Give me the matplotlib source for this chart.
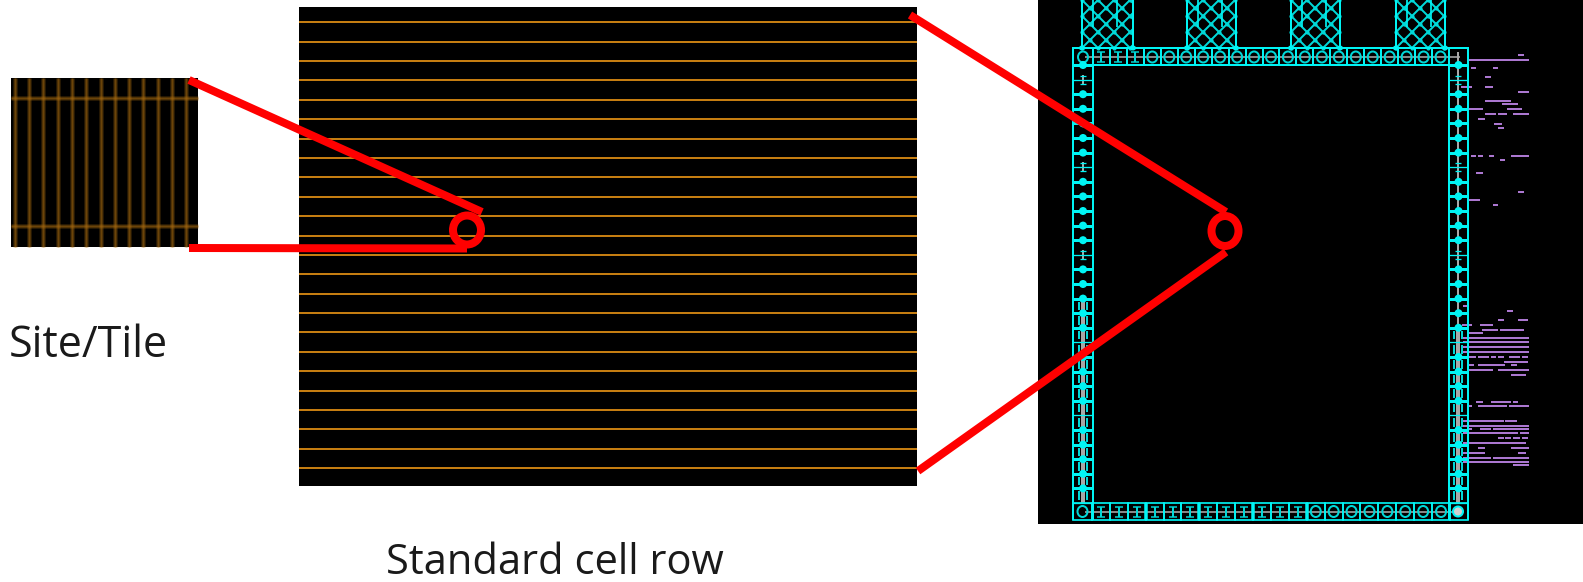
import numpy as np
from matplotlib import pyplot as plt
from matplotlib.collections import LineCollection
from matplotlib.patches import Ellipse, Rectangle

# horizontal rows of the middle panel
row_y = [22, 42, 61, 80, 100, 119, 139, 158, 177, 197, 216, 236, 255, 274,
         294, 313, 332, 352, 371, 391, 410, 429, 449, 468]

# site / tile panel grid
site_x = [15, 29, 43, 58, 72, 86, 101, 115, 129, 143, 158, 172, 186]
site_y = [98, 226]

# io ring cells
top_cells = "OIIIOOOOOOOOOOOOOOOOOOO"
bottom_cells = "OIIIIIIIIIIIIOOOOOOOOO"
left_cells = "----------------OOOOOOOOOOOOOO"
right_cells = "------------------OOOOOOOOOOOO"
side_borders = "DTDDDDDTDDDDDTDDDDDNDDDDNDDDDDN"
bottom_bright = [4, 7, 10, 13]

pad_x0 = [1082, 1187, 1291, 1396]
pad_x1 = [1133, 1236, 1340, 1445]

# purple wires right of the ring
wire_y = [55, 60, 68, 68, 77, 87, 87, 92, 101, 104, 109, 109, 114, 114, 114,
          119, 124, 128, 156, 156, 156, 156, 160, 173, 192, 200, 205, 306,
          311, 320, 320, 325, 325, 330, 330, 333, 338, 342, 347, 352,
          357, 357, 357, 357, 357, 357, 362, 365, 365, 365, 370, 370, 375,
          402, 402, 402, 406, 406, 406, 421, 421, 426, 429, 429, 429, 433, 433,
          438, 438, 438, 438, 443, 448, 448, 453, 453, 458, 458, 462, 465]
wire_x0 = [1518, 1468, 1471, 1493, 1485, 1461, 1485, 1518, 1485, 1502, 1468, 1507, 1485, 1498, 1513,
           1478, 1494, 1498, 1471, 1478, 1489, 1511, 1500, 1476, 1518, 1468, 1493, 1463,
           1507, 1498, 1518, 1462, 1480, 1482, 1500, 1468, 1463, 1463, 1463, 1463,
           1468, 1478, 1491, 1498, 1509, 1522, 1504, 1468, 1478, 1511, 1467, 1498, 1511,
           1476, 1491, 1513, 1468, 1478, 1509, 1463, 1505, 1463, 1468, 1480, 1493, 1463, 1520,
           1498, 1505, 1513, 1522, 1463, 1478, 1511, 1463, 1518, 1463, 1493, 1463, 1513]
wire_x1 = [1524, 1529, 1476, 1498, 1491, 1472, 1493, 1529, 1511, 1518, 1483, 1522, 1496, 1507, 1529,
           1485, 1502, 1504, 1476, 1483, 1494, 1529, 1505, 1483, 1524, 1480, 1498, 1467,
           1513, 1504, 1528, 1472, 1493, 1498, 1524, 1483, 1529, 1529, 1529, 1529,
           1476, 1489, 1496, 1504, 1520, 1528, 1528, 1474, 1505, 1517, 1493, 1529, 1526,
           1483, 1511, 1518, 1472, 1507, 1529, 1504, 1517, 1529, 1472, 1491, 1529, 1518, 1529,
           1504, 1511, 1520, 1528, 1526, 1485, 1529, 1485, 1526, 1491, 1529, 1529, 1529]

CYAN = '#00f4f4'
GLYPH = '#00d8d8'
GRAY = '#a8a8a8'
PX = 0.72  # one pixel in points at dpi 100


def line(ax, xs, ys, color, width, **kw):
    ax.plot(xs, ys, color=color, lw=width * PX, solid_capstyle='butt', **kw)


def draw_glyph(ax, kind, cx, cy):
    if kind == 'O':
        ax.add_patch(Ellipse((cx, cy), 10, 11, fill=False, ec=GLYPH, lw=2 * PX, zorder=3))
    elif kind == 'I':
        line(ax, [cx, cx], [cy - 5, cy + 5], GLYPH, 2, zorder=3)
        line(ax, [cx - 4, cx + 4], [cy - 5, cy - 5], GLYPH, 1.5, zorder=3)
        line(ax, [cx - 4, cx + 4], [cy + 5, cy + 5], GLYPH, 1.5, zorder=3)


def draw_side(ax, x0, x1, cells):
    cy0, step = 65, 14.6
    mid = (x0 + x1) / 2
    for k, kind in enumerate(cells):
        y = cy0 + step * k
        if kind == 'O':
            line(ax, [mid, mid], [y, y + step], GRAY, 4, zorder=2)
            for x in (mid - 4, mid + 4):
                line(ax, [x, x], [y + 3, y + step - 3], GLYPH, 2, zorder=3)
    for k, code in enumerate(side_borders):
        y = cy0 + step * k
        if code == 'D':
            line(ax, [x0, x1], [y, y], CYAN, 3, zorder=3)
            ax.add_patch(Ellipse((mid, y), 8, 8, color=CYAN, lw=0, zorder=3))
        else:
            line(ax, [x0, x1], [y, y], CYAN, 1.3, zorder=3)
        if code == 'T':
            line(ax, [mid, mid], [y - 5, y + 5], GRAY, 2, zorder=2)
            line(ax, [mid - 3, mid + 3], [y - 4, y - 4], CYAN, 1.3, zorder=3)
            line(ax, [mid - 3, mid + 3], [y + 4, y + 4], CYAN, 1.3, zorder=3)
    for x in (x0, x1):
        line(ax, [x, x], [48, 520], CYAN, 2, zorder=3)


fig, ax = plt.subplots(figsize=(15.83, 5.82), dpi=100)
fig.subplots_adjust(0, 0, 1, 1)
ax.set_xlim(0, 1583)
ax.set_ylim(582, 0)
ax.axis('off')

# site panel, soft glowing lines
ax.add_patch(Rectangle((11, 78), 187, 169, color='black', lw=0))
for x in site_x:
    line(ax, [x, x], [78, 247], '#a86a10', 5, alpha=0.22)
    line(ax, [x, x], [78, 247], '#a86a10', 3, alpha=0.3)
    line(ax, [x, x], [78, 247], '#a86a10', 1.3, alpha=0.35)
for y in site_y:
    line(ax, [11, 198], [y, y], '#a86a10', 5, alpha=0.22)
    line(ax, [11, 198], [y, y], '#a86a10', 3, alpha=0.3)
    line(ax, [11, 198], [y, y], '#a86a10', 1.3, alpha=0.35)

# middle panel
ax.add_patch(Rectangle((299, 7), 618, 479, color='black', lw=0))
for y in row_y:
    line(ax, [299, 917], [y, y], '#dc8c14', 1.8)

# right panel
ax.add_patch(Rectangle((1038, 0), 545, 524, color='black', lw=0))

# pads
for x0, x1 in zip(pad_x0, pad_x1):
    clip = Rectangle((x0, 0), x1 - x0, 48, transform=ax.transData)
    offsets = np.arange(-64, 128, 16.0)
    segs = []
    for c in offsets:
        segs.append([(x0 + c, 0), (x0 + c + 64, 64)])
        segs.append([(x0 + c + 64, 0), (x0 + c, 64)])
    lc = LineCollection(segs, colors=GLYPH, linewidths=2 * PX)
    ax.add_collection(lc)
    lc.set_clip_path(clip)
    a, b = np.meshgrid(x0 + offsets, x0 + offsets + 64)
    nx, ny = (a + b) / 2, (b - a) / 2
    keep = (nx >= x0) & (nx <= x1) & (ny >= 0) & (ny <= 48)
    ax.scatter(nx[keep], ny[keep], s=9, color=GLYPH, lw=0)
    for x in (x0, x1):
        line(ax, [x, x], [0, 50], CYAN, 2, zorder=3)
        ax.add_patch(Ellipse((x, 48), 6, 5, color=CYAN, lw=0, zorder=3))
    for dx in (11, 35):
        line(ax, [x0 + dx, x0 + dx], [0, 27], CYAN, 1.7)

# wires, under the ring
ax.hlines(wire_y, wire_x0, wire_x1, color='#b57edc', lw=1.9 * PX, zorder=1)

# top row of the ring
step_top = 356 / 21
edges_top = [1073] + [1093 + step_top * i for i in range(22)] + [1468]
line(ax, [1085, 1460], [57, 57], GRAY, 1.6, zorder=2)
for i, kind in enumerate(top_cells):
    x0, x1 = edges_top[i], edges_top[i + 1]
    ax.add_patch(Rectangle((x0, 48), x1 - x0, 17, fill=False, ec=CYAN, lw=2 * PX, zorder=3))
    if i < len(top_cells) - 1:
        draw_glyph(ax, kind, (x0 + x1) / 2, 57)

# bottom row of the ring
step_bot = 358 / 20
edges_bot = [1073] + [1092 + step_bot * i for i in range(21)] + [1468]
line(ax, [1085, 1460], [511.5, 511.5], GRAY, 1.6, zorder=2)
for i, kind in enumerate(bottom_cells):
    x0, x1 = edges_bot[i], edges_bot[i + 1]
    ax.add_patch(Rectangle((x0, 503), x1 - x0, 17, fill=False, ec=CYAN, lw=1.7 * PX, zorder=3))
    if i in bottom_bright:
        line(ax, [x0, x0], [503, 520], CYAN, 3.5, zorder=3)
    if i < len(bottom_cells) - 1:
        draw_glyph(ax, kind, (x0 + x1) / 2, 511.5)
ax.add_patch(Ellipse((1458, 511.5), 10, 10, fc='#d0d0d0', ec=CYAN, lw=2 * PX, zorder=4))

draw_side(ax, 1073, 1093, left_cells)
draw_side(ax, 1449, 1468, right_cells)
line(ax, [1458, 1458], [52, 330], GRAY, 2, zorder=2)

# red callouts
RED = '#ff0000'
for xs, ys in [([189, 482], [80, 212]), ([189, 467], [248, 248.5]),
               ([910, 1226], [15, 212]), ([918, 1226], [471, 252])]:
    line(ax, xs, ys, RED, 8, zorder=6)
ax.add_patch(Ellipse((467, 230), 28, 29, fill=False, ec=RED, lw=8 * PX, zorder=6))
ax.add_patch(Ellipse((1225, 231), 27, 30, fill=False, ec=RED, lw=8 * PX, zorder=6))

ax.text(9, 357, 'Site/Tile', fontsize=31, family='Open Sans', va='baseline', color='#1a1a1a')
ax.text(386, 574, 'Standard cell row', fontsize=30, family='Open Sans', va='baseline', color='#1a1a1a')

fig.savefig('out.png', dpi=100)
